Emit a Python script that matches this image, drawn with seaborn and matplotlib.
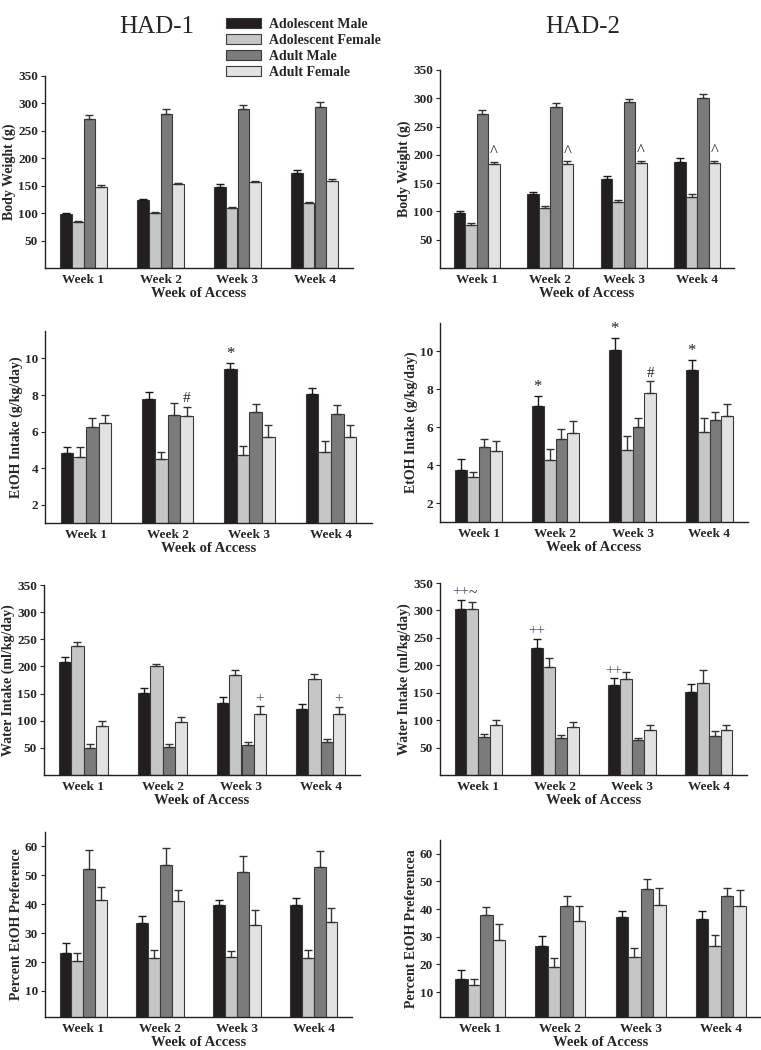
import numpy as np
import pandas as pd
import seaborn as sns
import matplotlib
matplotlib.use('Agg')
import matplotlib.pyplot as plt
from matplotlib.patches import Patch


weeks = ['Week 1', 'Week 2', 'Week 3', 'Week 4']
groups = ['Adolescent Male', 'Adolescent Female', 'Adult Male', 'Adult Female']
colors = ['#231f20', '#c6c6c6', '#7b7b7b', '#e2e2e2']

# one row per group, one value per week
had1_body = [[98, 124, 148, 173], [83, 100, 109, 119], [271, 280, 290, 294], [148, 153, 156, 159]]
had1_body_err = [[2, 2, 5, 5], [2, 2, 2, 2], [8, 9, 8, 8], [3, 2.5, 2.5, 3]]
had2_body = [[97, 130, 157, 187], [76, 106, 116, 125], [273, 285, 293, 300], [183, 184, 185, 185]]
had2_body_err = [[4, 4, 6, 7], [3, 4, 4, 5], [7, 7, 6, 7], [5, 5, 5, 5]]

had1_etoh = [[4.85, 7.76, 9.4, 8.07], [4.62, 4.51, 4.71, 4.89], [6.24, 6.91, 7.05, 6.95], [6.49, 6.87, 5.69, 5.69]]
had1_etoh_err = [[0.28, 0.39, 0.35, 0.33], [0.52, 0.4, 0.51, 0.6], [0.52, 0.65, 0.46, 0.49], [0.4, 0.48, 0.66, 0.69]]
had2_etoh = [[3.75, 7.1, 10.1, 9.04], [3.35, 4.25, 4.82, 5.74], [4.95, 5.4, 6.03, 6.37], [4.75, 5.72, 7.82, 6.58]]
had2_etoh_err = [[0.55, 0.53, 0.6, 0.49], [0.3, 0.59, 0.72, 0.73], [0.45, 0.51, 0.46, 0.45], [0.53, 0.6, 0.6, 0.62]]

had1_water = [[208, 151, 132, 121], [237, 200, 184, 176], [50, 51, 56, 60], [90, 97, 113, 113]]
had1_water_err = [[10, 9, 11, 9], [8, 4, 9, 10], [7, 7, 5, 7], [10, 10, 14, 13]]
had2_water = [[302, 232, 164, 152], [302, 197, 175, 168], [69, 68, 63, 72], [92, 87, 82, 82]]
had2_water_err = [[17, 16, 12, 13], [14, 16, 13, 24], [5, 5, 5, 8], [8, 9, 9, 9]]

had1_pref = [[23.3, 33.5, 39.8, 39.7], [20.5, 21.3, 21.6, 21.3], [52.3, 53.7, 51.2, 52.8], [41.6, 41, 32.9, 33.8]]
had1_pref_err = [[3.3, 2.6, 1.7, 2.6], [2.8, 2.9, 2.4, 2.9], [6.4, 5.9, 5.6, 5.7], [4.4, 4.1, 5, 4.8]]
had2_pref = [[14.8, 26.7, 37.1, 36.3], [12.4, 18.9, 22.6, 26.7], [37.8, 41.2, 47.3, 44.6], [28.7, 35.7, 41.4, 41.2]]
had2_pref_err = [[3.2, 3.7, 2.4, 2.9], [2.4, 3.3, 3.5, 3.9], [2.8, 3.4, 3.5, 3.2], [6.1, 5.3, 6.2, 5.7]]

# significance marks: (week index, group index, symbol)
had2_body_marks = [(0, 3, '^'), (1, 3, '^'), (2, 3, '^'), (3, 3, '^')]
had1_etoh_marks = [(1, 3, '#'), (2, 0, '*')]
had2_etoh_marks = [(1, 0, '*'), (2, 0, '*'), (3, 0, '*'), (2, 3, '#')]
had1_water_marks = [(2, 3, '+'), (3, 3, '+')]
had2_water_marks = [(0, 0, '++'), (1, 0, '++'), (2, 0, '++'), (0, 1, '~')]

SERIF = 'Liberation Serif'
EDGE = '#3a3a3a'


def make_frame(values):
    rows = []
    for g, vals in zip(groups, values):
        for w, v in zip(weeks, vals):
            rows.append({'week': w, 'group': g, 'value': v})
    return pd.DataFrame(rows)


def draw_panel(fig, rect, values, errors, ylabel, ylim, yticks, marks=()):
    ax = fig.add_axes(rect)
    df = make_frame(values)
    sns.barplot(data=df, x='week', y='value', hue='group', order=weeks, hue_order=groups,
                palette=colors, saturation=1, width=0.62, errorbar=None,
                edgecolor=EDGE, linewidth=0.8, legend=False, ax=ax)

    tops = {}
    for gi, (cont, errs) in enumerate(zip(ax.containers, errors)):
        xs = [b.get_x() + b.get_width() / 2 for b in cont]
        ys = [b.get_height() for b in cont]
        ecol = '#1a1a1a' if gi == 0 else '#333333'
        ax.errorbar(xs, ys, yerr=[np.zeros(len(errs)), errs], fmt='none', ecolor=ecol,
                    elinewidth=1.0, capsize=2.8, capthick=1.0, zorder=3)
        for wi, (x, y, e) in enumerate(zip(xs, ys, errs)):
            tops[(wi, gi)] = (x, y + e)

    for wi, gi, sym in marks:
        x, y = tops[(wi, gi)]
        col = '#4a5670' if '+' in sym else '#222222'
        size = 12 if sym in ('*', '^') else 11
        ax.annotate(sym, (x, y), xytext=(0, 1), textcoords='offset points',
                    ha='center', va='bottom', fontsize=size, color=col, family=SERIF)

    ax.set_xlim(-0.5, 3.5)
    ax.set_ylim(*ylim)
    ax.set_yticks(yticks)
    ax.set_xlabel('Week of Access', fontsize=10.5, fontweight='bold', family=SERIF, labelpad=1)
    ax.set_ylabel(ylabel, fontsize=10, fontweight='bold', family=SERIF, labelpad=1.5)
    ax.tick_params(axis='x', length=0, pad=4)
    ax.tick_params(axis='y', length=3, width=0.8, pad=2)
    for lab in ax.get_xticklabels() + ax.get_yticklabels():
        lab.set_fontfamily(SERIF)
        lab.set_fontweight('bold')
        lab.set_fontsize(9.5)
    sns.despine(ax=ax)
    for s in ('left', 'bottom'):
        ax.spines[s].set_color('#222222')
        ax.spines[s].set_linewidth(1.0)
    return ax


def rect(x0, x1, y0, y1):
    W, H = 761, 1050
    return [x0 / W, 1 - y1 / H, (x1 - x0) / W, (y1 - y0) / H]


def main():
    sns.set_theme(style='ticks')
    plt.rcParams['font.family'] = [SERIF, 'DejaVu Serif']

    fig = plt.figure(figsize=(7.61, 10.5), dpi=100)

    body_ticks = [50, 100, 150, 200, 250, 300, 350]
    etoh_ticks = [2, 4, 6, 8, 10]
    pref_ticks = [10, 20, 30, 40, 50, 60]

    draw_panel(fig, rect(45, 353, 76, 268), had1_body, had1_body_err, 'Body Weight (g)', (0, 350), body_ticks)
    draw_panel(fig, rect(440, 734, 70, 268), had2_body, had2_body_err, 'Body Weight (g)', (0, 350), body_ticks,
               had2_body_marks)
    draw_panel(fig, rect(45, 372, 331, 523), had1_etoh, had1_etoh_err, 'EtOH Intake (g/kg/day)', (1, 11.5),
               etoh_ticks, had1_etoh_marks)
    draw_panel(fig, rect(440, 748, 323, 522), had2_etoh, had2_etoh_err, 'EtOH Intake (g/kg/day)', (1, 11.5),
               etoh_ticks, had2_etoh_marks)
    draw_panel(fig, rect(44, 360, 585, 775), had1_water, had1_water_err, 'Water Intake (ml/kg/day)', (0, 350),
               body_ticks, had1_water_marks)
    draw_panel(fig, rect(440, 747, 583, 775), had2_water, had2_water_err, 'Water Intake (ml/kg/day)', (0, 350),
               body_ticks, had2_water_marks)
    draw_panel(fig, rect(45, 352, 832, 1017), had1_pref, had1_pref_err, 'Percent EtOH Preference', (1, 65),
               pref_ticks)
    draw_panel(fig, rect(440, 761, 840, 1017), had2_pref, had2_pref_err, 'Percent EtOH Preferencea', (1, 65),
               pref_ticks)

    fig.text(157 / 761, 1 - 27 / 1050, 'HAD-1', ha='center', va='center', fontsize=18, family=SERIF)
    fig.text(583 / 761, 1 - 27 / 1050, 'HAD-2', ha='center', va='center', fontsize=18, family=SERIF)

    handles = [Patch(facecolor=c, edgecolor=EDGE, linewidth=0.8, label=g) for c, g in zip(colors, groups)]
    fig.legend(handles=handles, loc='upper left', bbox_to_anchor=(226 / 761, 1 - 18 / 1050),
               frameon=False, prop={'family': SERIF, 'weight': 'bold', 'size': 10},
               handlelength=2.5, handleheight=0.75, labelspacing=0.22, handletextpad=0.6,
               borderaxespad=0, borderpad=0)

    fig.savefig('out.png', dpi=100)


if __name__ == "__main__":
    main()
